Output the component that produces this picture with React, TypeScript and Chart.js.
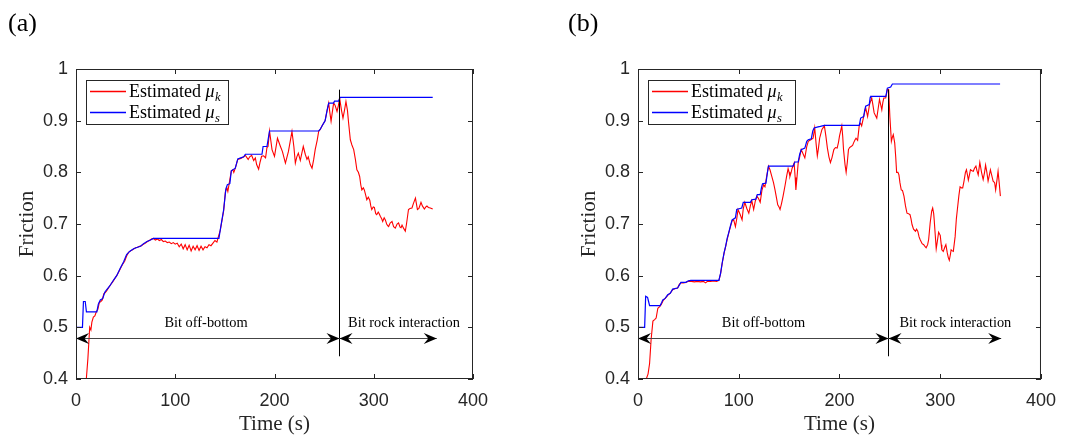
import React, { useEffect, useRef } from "react";
import { Chart, registerables } from "chart.js";
Chart.register(...registerables);

// ---------- shared axes ----------
const X_MIN = 0;
const X_MAX = 400;
const X_STEP = 100;
const Y_MIN = 0.4;
const Y_MAX = 1;
const Y_STEP = 0.1;
const X_TITLE = "Time (s)";
const Y_TITLE = "Friction";
const LEGEND_WORD = "Estimated";
const LEGEND_SUBS = ["k", "s"];
const TEXT_OFF = "Bit off-bottom";
const TEXT_ROCK = "Bit rock interaction";
const ARROW_Y = 0.48;
const TEXT_Y = 0.5;
const VLINE_Y = [0.444, 0.96];

// ---------- panel (a) ----------
const A_MUS_T = [0, 6.5, 7.5, 9.3, 10.5, 21, 22.5, 24.5, 27, 29, 31, 34, 38, 41, 44.7, 48, 51, 54, 58, 62, 65, 68, 71.5, 75, 78, 144, 145.4, 148.8, 151, 152.5, 155, 156.5, 160.5, 163, 166, 169, 170.6, 187.4, 188.5, 192.4, 195, 244.5, 246, 248, 251, 253, 254.6, 259.6, 260.5, 264.7, 266, 359.4];
const A_MUS_V = [0.5, 0.5, 0.55, 0.55, 0.53, 0.53, 0.545, 0.553, 0.556, 0.568, 0.573, 0.58, 0.592, 0.6, 0.615, 0.627, 0.641, 0.647, 0.652, 0.655, 0.657, 0.662, 0.666, 0.669, 0.672, 0.672, 0.689, 0.728, 0.768, 0.776, 0.778, 0.803, 0.808, 0.826, 0.828, 0.83, 0.835, 0.835, 0.85, 0.85, 0.88, 0.88, 0.883, 0.89, 0.9, 0.92, 0.934, 0.934, 0.938, 0.938, 0.945, 0.945];
const A_MUK_T = [0, 10.4, 12, 13.8, 15, 16, 17.5, 19, 20.5, 22, 23.5, 25, 26.5, 28, 29.5, 31, 33, 35, 37, 39, 41, 43, 45, 47, 49, 51, 53, 55, 57, 60, 62, 64, 66, 68, 70, 72, 74, 76, 78, 80, 82, 84, 86, 88, 90, 92, 94, 96, 98, 100, 102, 104, 106, 108, 110, 112, 114, 116, 118, 120, 122, 124, 126, 128, 130, 132, 134, 136, 138, 140, 142, 143, 145.4, 148.8, 150.5, 152, 153, 154.5, 156.5, 158, 159, 160.5, 163, 166, 169, 170.6, 172, 173.5, 175, 177, 179, 180.7, 182, 184, 185.5, 187, 189, 191, 192.4, 193.5, 195, 197.5, 200, 203, 206, 208, 211, 214, 217.6, 219.5, 221, 222.5, 224, 226, 229, 231, 232.7, 234, 236, 237.8, 239.5, 241, 243, 244.5, 246, 248, 251, 253, 254.6, 255.8, 257, 258.5, 259.6, 261, 263, 264.5, 265.6, 267.5, 269, 270.5, 272, 273.5, 274.7, 276.4, 278, 279.8, 281.5, 283, 284.5, 285.8, 287, 288, 289.5, 290.5, 292, 293, 294.5, 296, 297, 298, 299.5, 300.6, 302, 303, 304.5, 305.5, 306.6, 308, 309, 310.5, 311.7, 313, 314, 315, 316.5, 318.4, 320, 321.7, 323.5, 325, 326.5, 327.5, 328.5, 330, 331.8, 333, 335, 336.5, 338.5, 340, 342, 344, 345.5, 347.6, 349, 351, 352.5, 353.6, 355, 357, 359.4];
const A_MUK_V = [0.4, 0.4, 0.44, 0.5, 0.495, 0.51, 0.52, 0.522, 0.53, 0.535, 0.548, 0.55, 0.553, 0.565, 0.567, 0.571, 0.577, 0.583, 0.588, 0.594, 0.6, 0.607, 0.615, 0.622, 0.628, 0.638, 0.645, 0.648, 0.65, 0.654, 0.655, 0.657, 0.658, 0.661, 0.663, 0.666, 0.668, 0.671, 0.672, 0.669, 0.671, 0.668, 0.67, 0.666, 0.667, 0.664, 0.665, 0.662, 0.664, 0.661, 0.663, 0.656, 0.661, 0.652, 0.66, 0.65, 0.659, 0.648, 0.657, 0.65, 0.658, 0.649, 0.657, 0.65, 0.656, 0.654, 0.66, 0.658, 0.663, 0.668, 0.665, 0.672, 0.688, 0.726, 0.762, 0.77, 0.763, 0.78, 0.803, 0.805, 0.8, 0.808, 0.825, 0.827, 0.83, 0.833, 0.829, 0.825, 0.83, 0.833, 0.823, 0.828, 0.815, 0.806, 0.82, 0.831, 0.832, 0.828, 0.848, 0.85, 0.88, 0.844, 0.831, 0.866, 0.85, 0.84, 0.818, 0.84, 0.879, 0.85, 0.818, 0.83, 0.837, 0.823, 0.85, 0.835, 0.825, 0.83, 0.815, 0.808, 0.825, 0.844, 0.862, 0.879, 0.883, 0.89, 0.9, 0.92, 0.934, 0.915, 0.899, 0.92, 0.934, 0.93, 0.918, 0.93, 0.944, 0.92, 0.905, 0.92, 0.937, 0.92, 0.895, 0.863, 0.853, 0.844, 0.825, 0.805, 0.8, 0.792, 0.775, 0.766, 0.77, 0.766, 0.755, 0.747, 0.752, 0.746, 0.735, 0.728, 0.733, 0.732, 0.72, 0.718, 0.723, 0.72, 0.715, 0.71, 0.705, 0.712, 0.708, 0.7, 0.697, 0.695, 0.702, 0.705, 0.695, 0.692, 0.7, 0.702, 0.694, 0.693, 0.698, 0.692, 0.686, 0.7, 0.728, 0.73, 0.731, 0.74, 0.75, 0.728, 0.73, 0.742, 0.735, 0.729, 0.733, 0.735, 0.732, 0.731, 0.729];
const A_SPLIT = 265;
const A_ARROW_END = 363.5;
const A_TEXT_OFF_X = 131;
const A_TEXT_ROCK_X = 330.5;

// ---------- panel (b) ----------
const B_MUS_T = [0, 6.6, 7.6, 9.5, 10.5, 11.5, 22, 23.5, 24.6, 27, 29.5, 32, 34.4, 39.3, 42.6, 47.5, 50, 52.5, 80.3, 82, 83.6, 85.5, 87, 88.5, 90, 91.8, 93.4, 96.7, 98, 99.3, 103, 104.5, 111.5, 113, 117, 118.4, 121.3, 122.5, 123.6, 127, 128.5, 129.5, 154, 155.7, 159, 160.5, 162, 165.6, 167.5, 169, 172, 173.5, 174.8, 178.7, 181, 185, 219.7, 221, 224, 225, 226, 229.5, 230.5, 231, 246, 247.5, 250.8, 252.5, 359.4];
const B_MUS_V = [0.5, 0.5, 0.56, 0.558, 0.55, 0.542, 0.542, 0.548, 0.553, 0.556, 0.563, 0.566, 0.574, 0.576, 0.587, 0.587, 0.59, 0.591, 0.591, 0.605, 0.625, 0.645, 0.657, 0.672, 0.683, 0.697, 0.708, 0.712, 0.728, 0.729, 0.731, 0.742, 0.742, 0.747, 0.748, 0.757, 0.757, 0.77, 0.778, 0.779, 0.8, 0.812, 0.812, 0.82, 0.82, 0.835, 0.844, 0.847, 0.86, 0.863, 0.865, 0.88, 0.886, 0.888, 0.889, 0.891, 0.891, 0.905, 0.908, 0.92, 0.928, 0.931, 0.945, 0.947, 0.947, 0.963, 0.965, 0.971, 0.971];
const B_MUK_T = [0, 8.2, 10, 11.5, 13, 14.8, 16.5, 18, 19.7, 21.5, 23, 25, 27, 29.5, 32, 34.4, 37, 39.3, 41, 42.6, 45, 47.5, 50, 53, 56, 59, 62, 65, 67, 69, 72, 75, 78, 80.3, 82, 83.6, 85.5, 87, 88.5, 90, 91.8, 93.4, 95, 96.7, 98, 99.3, 101.5, 103.3, 104.5, 106, 108, 110, 111.5, 113, 114.8, 116.5, 118, 119.5, 121.3, 123, 124.6, 126, 127.5, 129.5, 131, 132.8, 134.5, 136, 137.5, 138.7, 140, 141, 142.5, 144, 146, 147.5, 149, 150, 150.8, 152, 153, 155, 156, 156.7, 157.8, 159, 160.5, 162, 163.8, 165.6, 167.5, 169, 171.5, 173.8, 175.4, 176.8, 178, 179, 180.3, 182.6, 185, 186.5, 188, 189.5, 191, 192.5, 194.4, 196, 197.7, 199, 200, 202.3, 203.2, 204, 205.5, 206.6, 207.8, 208.9, 210, 211.5, 213, 214, 215.2, 216.4, 218, 219.7, 221, 222, 224, 226, 227.9, 229.8, 232, 233.2, 234.4, 235.7, 237, 238.5, 239.7, 241, 242, 243, 244, 245.9, 247.5, 248.8, 250, 251.5, 252.5, 253.4, 254.8, 255.8, 256.7, 258, 259, 260, 261.3, 262.5, 264, 265.5, 267, 268.5, 270, 271, 272, 273.5, 275.4, 276.5, 277.7, 279, 280, 282, 283.6, 285, 286, 287.5, 288.5, 290, 291.5, 292.5, 293.5, 294, 295, 296, 297, 298.4, 300, 301, 301.6, 303, 304.5, 305.6, 307, 308, 309, 310, 310.8, 312, 313, 314.8, 316, 317, 318.5, 319.7, 321, 322.3, 323.6, 325, 326, 327, 327.9, 329, 330, 331.5, 332.8, 334, 335.4, 336.5, 337.7, 339.3, 341, 342.6, 344, 345, 346.3, 347.5, 348.8, 349.8, 351, 352.5, 354, 355, 356.3, 357.4, 358.5, 359.7];
const B_MUK_V = [0.4, 0.4, 0.41, 0.43, 0.476, 0.512, 0.515, 0.518, 0.537, 0.54, 0.544, 0.552, 0.556, 0.562, 0.566, 0.573, 0.575, 0.576, 0.583, 0.586, 0.586, 0.587, 0.589, 0.589, 0.588, 0.589, 0.588, 0.589, 0.586, 0.589, 0.589, 0.59, 0.589, 0.591, 0.604, 0.624, 0.644, 0.656, 0.67, 0.682, 0.695, 0.706, 0.708, 0.695, 0.71, 0.728, 0.718, 0.708, 0.73, 0.742, 0.73, 0.721, 0.735, 0.745, 0.728, 0.745, 0.754, 0.75, 0.742, 0.765, 0.776, 0.772, 0.79, 0.812, 0.805, 0.792, 0.78, 0.766, 0.75, 0.737, 0.733, 0.728, 0.74, 0.754, 0.775, 0.792, 0.807, 0.8, 0.792, 0.8, 0.808, 0.818, 0.79, 0.766, 0.79, 0.818, 0.83, 0.844, 0.836, 0.828, 0.85, 0.86, 0.863, 0.866, 0.886, 0.855, 0.832, 0.845, 0.866, 0.883, 0.89, 0.87, 0.847, 0.83, 0.819, 0.828, 0.844, 0.848, 0.847, 0.858, 0.87, 0.89, 0.87, 0.844, 0.815, 0.8, 0.82, 0.844, 0.848, 0.85, 0.852, 0.857, 0.862, 0.866, 0.862, 0.892, 0.895, 0.89, 0.908, 0.925, 0.908, 0.931, 0.944, 0.93, 0.915, 0.91, 0.905, 0.925, 0.941, 0.93, 0.921, 0.935, 0.944, 0.944, 0.96, 0.96, 0.908, 0.86, 0.868, 0.873, 0.857, 0.83, 0.8, 0.8, 0.795, 0.78, 0.766, 0.765, 0.754, 0.735, 0.721, 0.72, 0.718, 0.71, 0.699, 0.69, 0.686, 0.69, 0.686, 0.675, 0.67, 0.662, 0.66, 0.656, 0.654, 0.66, 0.67, 0.702, 0.725, 0.731, 0.72, 0.708, 0.68, 0.652, 0.665, 0.684, 0.678, 0.66, 0.65, 0.647, 0.655, 0.66, 0.644, 0.635, 0.63, 0.64, 0.65, 0.648, 0.647, 0.676, 0.71, 0.728, 0.755, 0.772, 0.77, 0.77, 0.783, 0.8, 0.805, 0.795, 0.785, 0.795, 0.805, 0.803, 0.802, 0.808, 0.812, 0.803, 0.795, 0.819, 0.8, 0.786, 0.8, 0.814, 0.8, 0.783, 0.795, 0.805, 0.795, 0.783, 0.78, 0.766, 0.785, 0.802, 0.78, 0.754];
const B_SPLIT = 248.5;
const B_ARROW_END = 360.5;
const B_TEXT_OFF_X = 124.5;
const B_TEXT_ROCK_X = 315;

const zip = (t: number[], v: number[]) => t.map((x, i) => ({ x, y: v[i] }));

const SERIF = "'Liberation Serif', 'Times New Roman', serif";
const SANS = "'Liberation Sans', Arial, sans-serif";
const AXIS_COLOR = "#262626";

type PanelProps = {
  label: string;
  musT: number[];
  musV: number[];
  mukT: number[];
  mukV: number[];
  split: number;
  arrowEnd: number;
  textOffX: number;
  textRockX: number;
  left: number;
  width: number;
  yAxisW: number;
  padRight: number;
  legendW: number;
};

function Panel(p: PanelProps) {
  const ref = useRef<HTMLCanvasElement | null>(null);
  useEffect(() => {
    const canvas = ref.current;
    if (!canvas) return;
    const decor = {
      id: "decor",
      afterDatasetsDraw(chart: any) {
        const ctx = chart.ctx as CanvasRenderingContext2D;
        const a = chart.chartArea;
        const xs = chart.scales.x;
        const ys = chart.scales.y;
        ctx.save();
        // frame + inward ticks
        ctx.strokeStyle = AXIS_COLOR;
        ctx.lineWidth = 1;
        ctx.strokeRect(a.left + 0.5, a.top + 0.5, a.right - a.left - 1, a.bottom - a.top - 1);
        ctx.beginPath();
        for (let v = X_MIN; v <= X_MAX; v += X_STEP) {
          const px = Math.round(xs.getPixelForValue(v)) + 0.5;
          ctx.moveTo(px, a.bottom);
          ctx.lineTo(px, a.bottom - 5);
          ctx.moveTo(px, a.top);
          ctx.lineTo(px, a.top + 5);
        }
        for (let v = Y_MIN; v <= Y_MAX + 1e-9; v += Y_STEP) {
          const py = Math.round(ys.getPixelForValue(v)) + 0.5;
          ctx.moveTo(a.left, py);
          ctx.lineTo(a.left + 5, py);
          ctx.moveTo(a.right, py);
          ctx.lineTo(a.right - 5, py);
        }
        ctx.stroke();

        // vertical split line
        const sx = Math.round(xs.getPixelForValue(p.split)) + 0.5;
        ctx.strokeStyle = "#000";
        ctx.beginPath();
        ctx.moveTo(sx, ys.getPixelForValue(VLINE_Y[0]));
        ctx.lineTo(sx, ys.getPixelForValue(VLINE_Y[1]));
        ctx.stroke();

        // double arrows
        const ay = Math.round(ys.getPixelForValue(ARROW_Y)) + 0.5;
        const head = (tipX: number, dir: number) => {
          const L = 13, W = 5.5, N = 8.5;
          ctx.beginPath();
          ctx.moveTo(tipX, ay);
          ctx.lineTo(tipX - dir * L, ay - W);
          ctx.lineTo(tipX - dir * N, ay);
          ctx.lineTo(tipX - dir * L, ay + W);
          ctx.closePath();
          ctx.fillStyle = "#000";
          ctx.fill();
        };
        const x0 = xs.getPixelForValue(X_MIN);
        const xe = xs.getPixelForValue(p.arrowEnd);
        ctx.strokeStyle = "#444";
        ctx.beginPath();
        ctx.moveTo(x0, ay);
        ctx.lineTo(xe, ay);
        ctx.stroke();
        head(x0, -1);
        head(sx, 1);
        head(sx, -1);
        head(xe, 1);

        // region texts
        ctx.fillStyle = "#000";
        ctx.textAlign = "center";
        ctx.textBaseline = "alphabetic";
        ctx.font = `14.4px ${SERIF}`;
        const ty = ys.getPixelForValue(TEXT_Y);
        ctx.fillText(TEXT_OFF, xs.getPixelForValue(p.textOffX), ty);
        ctx.fillText(TEXT_ROCK, xs.getPixelForValue(p.textRockX), ty);

        // legend
        const lx = a.left + 10;
        const lyTop = a.top + 11;
        const lh = 44;
        ctx.fillStyle = "#fff";
        ctx.fillRect(lx, lyTop, p.legendW, lh);
        ctx.strokeStyle = AXIS_COLOR;
        ctx.lineWidth = 1;
        ctx.strokeRect(lx + 0.5, lyTop + 0.5, p.legendW, lh);
        const rows = [
          { color: "#ff0000", sub: LEGEND_SUBS[0], y: lyTop + 11 },
          { color: "#0000ff", sub: LEGEND_SUBS[1], y: lyTop + 32 },
        ];
        rows.forEach((r) => {
          ctx.strokeStyle = r.color;
          ctx.lineWidth = 1.3;
          ctx.beginPath();
          ctx.moveTo(lx + 4, r.y + 0.5);
          ctx.lineTo(lx + 40, r.y + 0.5);
          ctx.stroke();
          ctx.fillStyle = "#000";
          ctx.textAlign = "left";
          ctx.font = `18px ${SERIF}`;
          const base = r.y + 6;
          const tx = lx + 43;
          ctx.fillText(LEGEND_WORD, tx, base);
          const w1 = ctx.measureText(LEGEND_WORD + " ").width;
          ctx.font = `italic 18px ${SERIF}`;
          ctx.fillText("\u03bc", tx + w1, base);
          const w2 = ctx.measureText("\u03bc").width;
          ctx.font = `italic 12.5px ${SERIF}`;
          ctx.fillText(r.sub, tx + w1 + w2 + 0.5, base + 3.5);
        });

        // axis titles
        ctx.fillStyle = AXIS_COLOR;
        ctx.font = `21px ${SERIF}`;
        ctx.textAlign = "center";
        ctx.fillText(X_TITLE, (a.left + a.right) / 2, 430);
        ctx.save();
        ctx.translate(a.left - 43, (a.top + a.bottom) / 2);
        ctx.rotate(-Math.PI / 2);
        ctx.fillText(Y_TITLE, 0, 0);
        ctx.restore();

        // panel label
        ctx.fillStyle = "#000";
        ctx.textAlign = "left";
        ctx.font = `26px ${SERIF}`;
        ctx.fillText(p.label, p.left === 0 ? 8 : 28, 31);
        ctx.restore();
      },
    };
    const chart = new Chart(canvas, {
      type: "line",
      data: {
        datasets: [
          {
            label: "Estimated \u03bc_s",
            data: zip(p.musT, p.musV),
            borderColor: "#0000ff",
            borderWidth: 1.2,
            pointRadius: 0,
            tension: 0,
          },
          {
            label: "Estimated \u03bc_k",
            data: zip(p.mukT, p.mukV),
            borderColor: "#ff0000",
            borderWidth: 1.1,
            pointRadius: 0,
            tension: 0,
          },
        ],
      },
      options: {
        animation: false,
        responsive: false,
        devicePixelRatio: 1,
        layout: { padding: { left: 0, top: 69, right: p.padRight, bottom: 0 } },
        plugins: { legend: { display: false }, tooltip: { enabled: false } },
        scales: {
          x: {
            type: "linear",
            min: X_MIN,
            max: X_MAX,
            grid: { display: false, drawTicks: false },
            border: { display: false },
            ticks: {
              stepSize: X_STEP,
              padding: 11,
              maxRotation: 0,
              font: { family: SANS, size: 18 },
              color: AXIS_COLOR,
            },
            afterFit: (s: any) => {
              s.height = 57;
            },
          },
          y: {
            type: "linear",
            min: Y_MIN,
            max: Y_MAX,
            grid: { display: false, drawTicks: false },
            border: { display: false },
            ticks: {
              stepSize: Y_STEP,
              padding: 8,
              font: { family: SANS, size: 18 },
              color: AXIS_COLOR,
              callback: (v: any) => String(Math.round(Number(v) * 10) / 10),
            },
            afterFit: (s: any) => {
              s.width = p.yAxisW;
            },
          },
        },
      } as any,
      plugins: [decor],
    });
    return () => chart.destroy();
  }, []);
  return (
    <canvas
      ref={ref}
      width={p.width}
      height={436}
      style={{ position: "absolute", left: p.left, top: 0, width: p.width, height: 436 }}
    />
  );
}

export default function App() {
  return (
    <div style={{ position: "absolute", left: 0, top: 0, width: 1067, height: 436, background: "#fff" }}>
      <Panel
        label="(a)"
        musT={A_MUS_T}
        musV={A_MUS_V}
        mukT={A_MUK_T}
        mukV={A_MUK_V}
        split={A_SPLIT}
        arrowEnd={A_ARROW_END}
        textOffX={A_TEXT_OFF_X}
        textRockX={A_TEXT_ROCK_X}
        left={0}
        width={540}
        yAxisW={76}
        padRight={67}
        legendW={142}
      />
      <Panel
        label="(b)"
        musT={B_MUS_T}
        musV={B_MUS_V}
        mukT={B_MUK_T}
        mukV={B_MUK_V}
        split={B_SPLIT}
        arrowEnd={B_ARROW_END}
        textOffX={B_TEXT_OFF_X}
        textRockX={B_TEXT_ROCK_X}
        left={540}
        width={527}
        yAxisW={98}
        padRight={22}
        legendW={147}
      />
    </div>
  );
}
